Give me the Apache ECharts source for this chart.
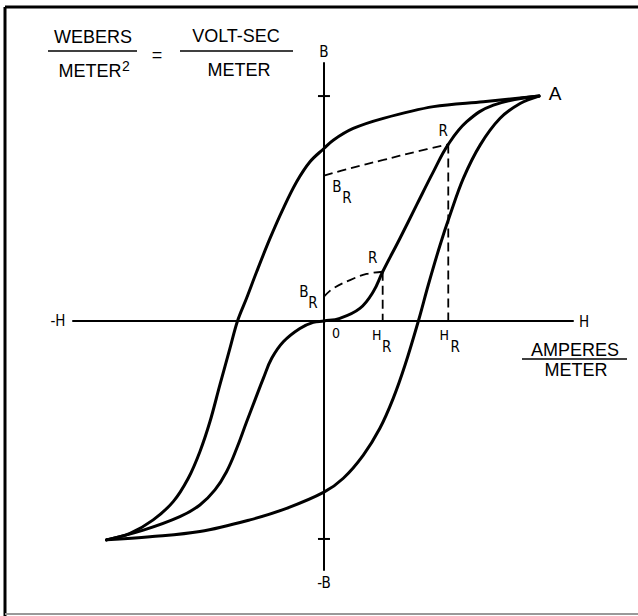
<!DOCTYPE html>
<html>
<head>
<meta charset="utf-8">
<script src="https://cdn.jsdelivr.net/npm/echarts@6/dist/echarts.min.js"></script>
<style>
    html, body { margin: 0; padding: 0; background: #fff; }
    #chart { width: 638px; height: 616px; }
</style>
</head>
<body>
<div id="chart"></div>
<script type="text/javascript">
    // units: H and B normalised so the tip A is (1, 1)
    var tipA = [1, 1];
    var tipNegA = [-1.011, -0.973];
    var outerFalling = [tipA, [0.741, 0.975], [0.509, 0.953], [0.276, 0.901], [0.136, 0.856], [0.043, 0.804], [0, 0.767],
        [-0.065, 0.708], [-0.127, 0.619], [-0.189, 0.501], [-0.251, 0.367], [-0.313, 0.219], [-0.36, 0.101],
        [-0.402, 0], [-0.437, -0.121], [-0.484, -0.284], [-0.53, -0.447], [-0.577, -0.581], [-0.631, -0.699],
        [-0.701, -0.803], [-0.794, -0.884], [-0.902, -0.944], tipNegA];
    var outerRising = [tipNegA, [-0.809, -0.959], [-0.577, -0.936], [-0.344, -0.884], [-0.174, -0.833], [0, -0.761],
        [0.09, -0.699], [0.183, -0.596], [0.26, -0.477], [0.322, -0.344], [0.377, -0.196], [0.439, 0],
        [0.485, 0.16], [0.54, 0.338], [0.586, 0.471], [0.648, 0.634], [0.726, 0.782], [0.819, 0.901],
        [0.912, 0.967], tipA];
    var middleCurve = [tipNegA, [-0.84, -0.93], [-0.67, -0.87], [-0.577, -0.818], [-0.507, -0.751], [-0.453, -0.67],
        [-0.406, -0.567], [-0.36, -0.449], [-0.318, -0.344], [-0.282, -0.255], [-0.243, -0.166], [-0.189, -0.092],
        [-0.112, -0.033], [-0.05, -0.006], [0, 0], [0.074, 0.012], [0.167, 0.056], [0.229, 0.13], [0.273, 0.219],
        [0.353, 0.367], [0.431, 0.516], [0.509, 0.664], [0.578, 0.785], [0.664, 0.886], [0.788, 0.96], tipA];
    var hR = [0.273, 0.578];         // H_R small, H_R large
    var rB = [0.219, 0.785];         // B at the two R points
    var bR = [0.108, 0.646];         // remanence B_R small, B_R large
    var remSmall = [[0, bR[0]], [0.043, 0.145], [0.121, 0.182], [0.198, 0.209], [hR[0], rB[0]]];
    var remLarge = [[0, bR[1]], [0.121, 0.679], [0.276, 0.716], [0.431, 0.753], [hR[1], rB[1]]];
    var bTicks = [1.0, -0.969];
    var hRange = [-1.167, 1.158];
    var bRange = [-1.107, 1.147];

    var condFont = '"DejaVu Sans Condensed", "Liberation Sans Narrow", sans-serif';
    var plainFont = '"Liberation Sans", Arial, sans-serif';

    function txt(x, y, s, size, fam) {
        return {
            type: 'text', silent: true,
            style: {text: s, x: x, y: y, fill: '#000', align: 'center', verticalAlign: 'middle',
                font: size + 'px ' + (fam || condFont)}
        };
    }
    function seg(x1, y1, x2, y2, w, c) {
        return {
            type: 'line', silent: true,
            shape: {x1: x1, y1: y1, x2: x2, y2: y2},
            style: {stroke: c || '#000', lineWidth: w}
        };
    }

    var chart = echarts.init(document.getElementById('chart'), null, {renderer: 'svg'});
    var curveStyle = {color: '#000', width: 3, cap: 'round', join: 'round'};
    var dashStyle = {color: '#000', width: 1.8, type: [9, 5]};

    var option = {
        backgroundColor: '#fff',
        animation: false,
        grid: {left: 73, right: 65, top: 63, bottom: 46},
        xAxis: {
            type: 'value', min: hRange[0], max: hRange[1],
            axisLine: {onZero: true, lineStyle: {color: '#000', width: 2}},
            axisTick: {show: false}, axisLabel: {show: false}, splitLine: {show: false}
        },
        yAxis: {
            type: 'value', min: bRange[0], max: bRange[1],
            axisLine: {onZero: true, lineStyle: {color: '#000', width: 2}},
            axisTick: {show: false}, axisLabel: {show: false}, splitLine: {show: false}
        },
        graphic: [
            // frame of the figure
            seg(5, 7, 638, 7, 3), seg(5, 7, 5, 616, 3), seg(5, 614, 638, 614, 2, '#999'),
            // units
            txt(93, 37, 'WEBERS', 18, plainFont), seg(48, 51, 137, 51, 1.5),
            txt(90, 71, 'METER', 18, plainFont), txt(126, 66, '2', 14, plainFont),
            txt(157, 55, '=', 18, plainFont),
            txt(236, 36, 'VOLT-SEC', 18, plainFont), seg(180, 51, 293, 51, 1.5),
            txt(239, 70, 'METER', 18, plainFont),
            txt(575, 350, 'AMPERES', 18, plainFont), seg(522, 359, 627, 359, 1.5),
            txt(576, 370, 'METER', 18, plainFont),
            // axis ends
            txt(58, 321, '-H', 15), txt(584, 322, 'H', 15),
            txt(324, 52, 'B', 15), txt(324, 583, '-B', 15)
        ],
        series: [
            {type: 'line', data: remLarge, smooth: 0.4, symbol: 'none', lineStyle: dashStyle},
            {type: 'line', data: remSmall, smooth: 0.4, symbol: 'none', lineStyle: dashStyle},
            {type: 'line', data: [[hR[0], rB[0]], [hR[0], 0]], symbol: 'none', lineStyle: dashStyle},
            {type: 'line', data: [[hR[1], rB[1]], [hR[1], 0]], symbol: 'none', lineStyle: dashStyle},
            {type: 'line', data: outerFalling, smooth: 0.35, symbol: 'none', lineStyle: curveStyle},
            {type: 'line', data: outerRising, smooth: 0.35, symbol: 'none', lineStyle: curveStyle},
            {type: 'line', data: middleCurve, smooth: 0.4, symbol: 'none', lineStyle: curveStyle},
            {
                type: 'scatter', symbol: 'rect', symbolSize: [12, 2], itemStyle: {color: '#000', opacity: 1},
                data: bTicks.map(function (b) { return [0, b]; })
            }
        ]
    };
    chart.setOption(option);

    // point labels, placed next to the points they name
    function lab(pt, s, dx, dy, size, fam) {
        var p = chart.convertToPixel({gridIndex: 0}, pt);
        return txt(p[0] + dx, p[1] + dy, s, size || 15, fam);
    }
    var pointLabels = [
        lab(tipA, 'A', 16, -3, 19, plainFont),
        lab([0, bR[1]], 'B', 13, 11), lab([0, bR[1]], 'R', 23, 22),
        lab([0, bR[0]], 'B', -20, -5), lab([0, bR[0]], 'R', -11, 6),
        lab([hR[1], rB[1]], 'R', -5, -13), lab([hR[0], rB[0]], 'R', -10, -14),
        lab([0, 0], '0', 12, 12, 14),
        lab([hR[0], 0], 'H', -6, 14, 14), lab([hR[0], 0], 'R', 4, 26),
        lab([hR[1], 0], 'H', -4, 14, 14), lab([hR[1], 0], 'R', 7, 26)
    ];
    chart.setOption({graphic: option.graphic.concat(pointLabels)});
</script>
</body>
</html>
